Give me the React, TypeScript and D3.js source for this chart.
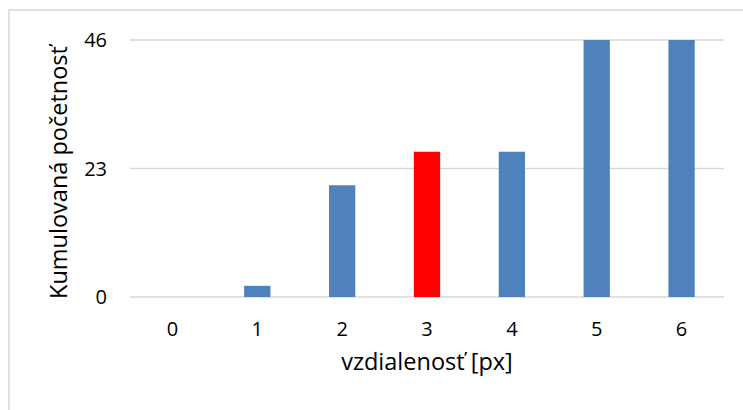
import React from "react";
import * as d3 from "d3";

const categories = ["0", "1", "2", "3", "4", "5", "6"];
const values = [0, 2, 20, 26, 26, 46, 46];
const highlight = ["3"];
const yTicks = [0, 23, 46];
const xTitle = "vzdialenosť [px]";
const yTitle = "Kumulovaná početnosť";

const W = 743;
const H = 410;
const plot = { left: 130, right: 724, top: 40, bottom: 297 };
const FONT = "'Open Sans', sans-serif";

export default function App() {
  const x = d3
    .scaleBand<string>()
    .domain(categories)
    .range([plot.left, plot.right])
    .paddingInner(0.69)
    .paddingOuter(0.345);
  const y = d3.scaleLinear().domain([0, 46]).range([plot.bottom, plot.top]);

  return (
    <svg
      width={W}
      height={H}
      style={{ position: "absolute", left: 0, top: 0, background: "#fff" }}
    >
      <rect x={9} y={10} width={W} height={H} fill="#fff" stroke="#d9d9d9" strokeWidth={1.5} />
      {yTicks.map((t) => (
        <line
          key={"g" + t}
          x1={plot.left}
          x2={plot.right}
          y1={y(t)}
          y2={y(t)}
          stroke="#d9d9d9"
          strokeWidth={1.5}
        />
      ))}
      {categories.map((c, i) => (
        <rect
          key={"b" + c}
          x={x(c)}
          y={y(values[i])}
          width={x.bandwidth()}
          height={y(0) - y(values[i])}
          fill={highlight.includes(c) ? "#ff0000" : "#4f81bd"}
        />
      ))}
      {yTicks.map((t) => (
        <text
          key={"yt" + t}
          x={107}
          y={y(t)}
          dy="0.36em"
          textAnchor="end"
          fontFamily={FONT}
          fontSize={20}
          fill="#000"
        >
          {t}
        </text>
      ))}
      {categories.map((c) => (
        <text
          key={"xt" + c}
          x={(x(c) as number) + x.bandwidth() / 2}
          y={336}
          textAnchor="middle"
          fontFamily={FONT}
          fontSize={20}
          fill="#000"
        >
          {c}
        </text>
      ))}
      <text
        x={(plot.left + plot.right) / 2}
        y={370}
        textAnchor="middle"
        fontFamily={FONT}
        fontSize={23.5}
        fill="#000"
      >
        {xTitle}
      </text>
      <text
        transform={`translate(67, ${(plot.top + plot.bottom) / 2 + 4}) rotate(-90)`}
        textAnchor="middle"
        fontFamily={FONT}
        fontSize={23.5}
        fill="#000"
      >
        {yTitle}
      </text>
    </svg>
  );
}
